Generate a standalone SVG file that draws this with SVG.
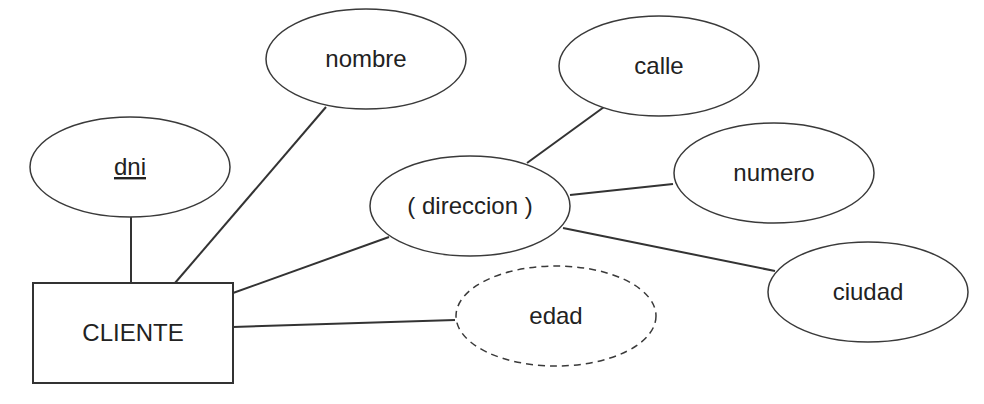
<svg xmlns="http://www.w3.org/2000/svg" width="984" height="404" viewBox="0 0 984 404">
  <style>
    .shape { fill: #ffffff; stroke: #3a3a3a; stroke-width: 1.5; }
    .entity { fill: #ffffff; stroke: #333333; stroke-width: 2; }
    .dashed { stroke-dasharray: 7 5; }
    .conn { stroke: #333333; stroke-width: 2; fill: none; }
    .label { font-family: "Liberation Sans", Arial, Helvetica, sans-serif; font-size: 24px; fill: #222222; text-anchor: middle; }
  </style>
  <rect width="984" height="404" fill="#ffffff"/>
  <g id="connectors">
    <line class="conn" x1="131" y1="217" x2="131" y2="283"/>
    <line class="conn" x1="175" y1="283" x2="326" y2="107"/>
    <line class="conn" x1="233" y1="293" x2="389" y2="237"/>
    <line class="conn" x1="233" y1="327" x2="455" y2="320"/>
    <line class="conn" x1="527" y1="163" x2="604" y2="107"/>
    <line class="conn" x1="570" y1="195" x2="673" y2="184"/>
    <line class="conn" x1="563" y1="228" x2="775" y2="271"/>
  </g>
  <g id="node-nombre">
    <ellipse class="shape" cx="366" cy="59" rx="100" ry="50"/>
    <text class="label" x="366" y="67">nombre</text>
  </g>
  <g id="node-calle">
    <ellipse class="shape" cx="659" cy="66" rx="100" ry="50"/>
    <text class="label" x="659" y="74">calle</text>
  </g>
  <g id="node-dni">
    <ellipse class="shape" cx="130" cy="167" rx="100" ry="50"/>
    <text class="label" x="130" y="175" text-decoration="underline">dni</text>
  </g>
  <g id="node-direccion">
    <ellipse class="shape" cx="470" cy="206" rx="100" ry="50"/>
    <text class="label" x="470" y="214">( direccion )</text>
  </g>
  <g id="node-numero">
    <ellipse class="shape" cx="774" cy="173" rx="100" ry="50"/>
    <text class="label" x="774" y="181">numero</text>
  </g>
  <g id="node-ciudad">
    <ellipse class="shape" cx="868" cy="292" rx="100" ry="50"/>
    <text class="label" x="868" y="300">ciudad</text>
  </g>
  <g id="node-edad">
    <ellipse class="shape dashed" cx="556" cy="316" rx="100" ry="50"/>
    <text class="label" x="556" y="324">edad</text>
  </g>
  <g id="node-cliente">
    <rect class="entity" x="33" y="283" width="200" height="100"/>
    <text class="label" x="133" y="341">CLIENTE</text>
  </g>
</svg>
